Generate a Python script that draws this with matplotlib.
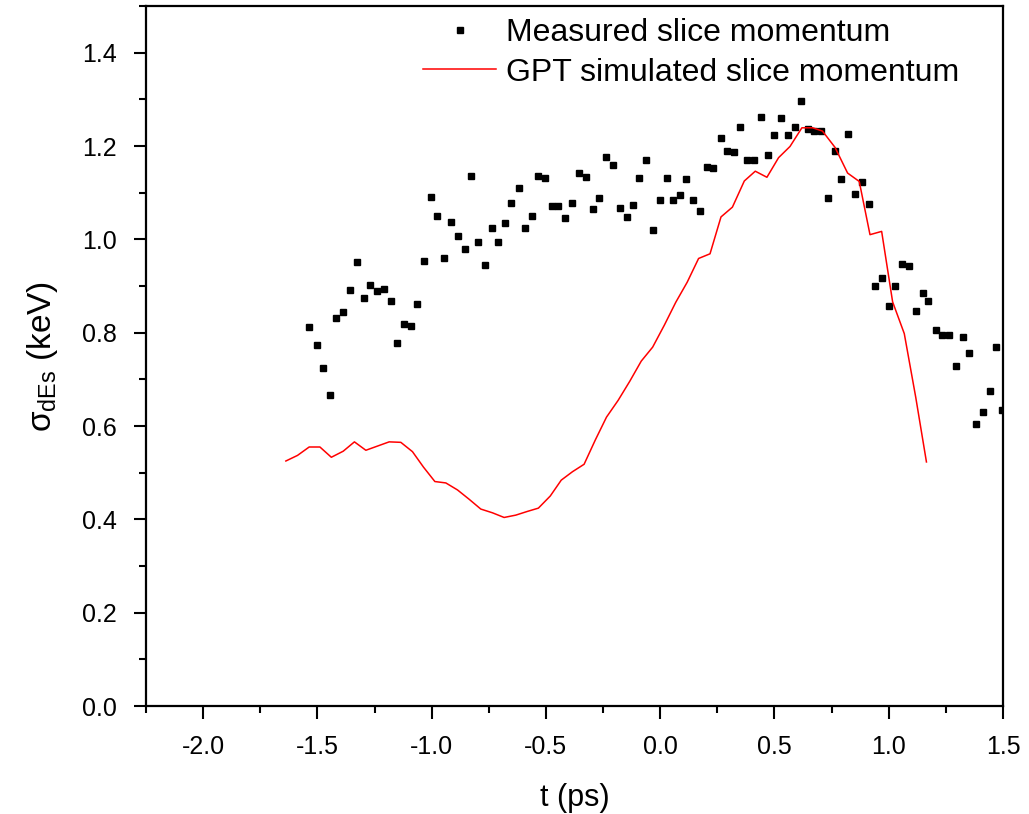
import matplotlib
matplotlib.use('Agg')
import matplotlib.pyplot as plt
from matplotlib.ticker import MultipleLocator

# measured slice momentum spread (ps, keV)
t_meas = [-1.536, -1.502, -1.476, -1.446, -1.417, -1.386, -1.357, -1.327, -1.297, -1.268,
          -1.240, -1.208, -1.180, -1.151, -1.120, -1.091, -1.062, -1.033, -1.002, -0.975,
          -0.945, -0.916, -0.885, -0.856, -0.827, -0.797, -0.767, -0.737, -0.708, -0.678,
          -0.651, -0.618, -0.591, -0.561, -0.533, -0.503, -0.474, -0.448, -0.416, -0.386,
          -0.354, -0.325, -0.296, -0.267, -0.236, -0.207, -0.178, -0.147, -0.121, -0.092,
          -0.061, -0.032, -0.001, 0.028, 0.057, 0.088, 0.114, 0.144, 0.174, 0.203,
          0.233, 0.264, 0.293, 0.323, 0.350, 0.381, 0.410, 0.439, 0.471, 0.499,
          0.528, 0.559, 0.588, 0.616, 0.645, 0.675, 0.705, 0.734, 0.763, 0.793,
          0.823, 0.853, 0.883, 0.913, 0.940, 0.972, 0.999, 1.028, 1.058, 1.090,
          1.119, 1.148, 1.174, 1.207, 1.235, 1.262, 1.294, 1.323, 1.352, 1.382,
          1.412, 1.443, 1.469, 1.495]
s_meas = [0.813, 0.774, 0.725, 0.666, 0.831, 0.844, 0.891, 0.951, 0.874, 0.903,
          0.889, 0.894, 0.867, 0.778, 0.819, 0.814, 0.861, 0.953, 1.091, 1.049,
          0.961, 1.037, 1.008, 0.980, 1.136, 0.994, 0.946, 1.025, 0.994, 1.036,
          1.078, 1.110, 1.024, 1.051, 1.136, 1.132, 1.071, 1.072, 1.046, 1.078,
          1.143, 1.133, 1.065, 1.088, 1.177, 1.160, 1.068, 1.047, 1.074, 1.132,
          1.170, 1.021, 1.084, 1.132, 1.085, 1.095, 1.129, 1.085, 1.061, 1.156,
          1.153, 1.217, 1.189, 1.187, 1.241, 1.171, 1.171, 1.262, 1.180, 1.223,
          1.259, 1.224, 1.241, 1.296, 1.236, 1.233, 1.233, 1.089, 1.190, 1.129,
          1.225, 1.098, 1.122, 1.076, 0.899, 0.917, 0.857, 0.900, 0.947, 0.942,
          0.847, 0.884, 0.868, 0.806, 0.796, 0.796, 0.728, 0.790, 0.757, 0.605,
          0.629, 0.676, 0.769, 0.635]

# GPT simulation
t_gpt = [-1.638, -1.587, -1.536, -1.489, -1.439, -1.387, -1.338, -1.288, -1.237, -1.186,
         -1.135, -1.084, -1.036, -0.986, -0.938, -0.887, -0.836, -0.785, -0.734, -0.683,
         -0.632, -0.581, -0.533, -0.481, -0.433, -0.384, -0.333, -0.284, -0.235, -0.184,
         -0.133, -0.083, -0.033, 0.018, 0.068, 0.118, 0.168, 0.218, 0.266, 0.316,
         0.368, 0.416, 0.467, 0.518, 0.568, 0.620, 0.667, 0.710, 0.765, 0.820,
         0.871, 0.918, 0.969, 1.017, 1.068, 1.118, 1.165]
s_gpt = [0.525, 0.537, 0.555, 0.555, 0.533, 0.546, 0.566, 0.548, 0.557, 0.566,
         0.565, 0.545, 0.512, 0.481, 0.478, 0.463, 0.443, 0.422, 0.414, 0.404,
         0.409, 0.417, 0.424, 0.450, 0.484, 0.502, 0.518, 0.570, 0.619, 0.655,
         0.696, 0.739, 0.769, 0.816, 0.865, 0.908, 0.959, 0.969, 1.048, 1.069,
         1.125, 1.146, 1.133, 1.175, 1.199, 1.239, 1.239, 1.232, 1.197, 1.142,
         1.124, 1.010, 1.017, 0.866, 0.798, 0.662, 0.523]

plt.rcParams['font.family'] = ['Liberation Sans', 'DejaVu Sans']
plt.rcParams['mathtext.fontset'] = 'custom'
plt.rcParams['mathtext.rm'] = 'Liberation Sans'
plt.rcParams['mathtext.it'] = 'Liberation Sans:italic'

fig = plt.figure(figsize=(10.29, 8.14), dpi=100)
ax = fig.add_axes([146/1029, 1 - 706/814, (1003 - 146)/1029, (706 - 6)/814])

ax.plot(t_meas, s_meas, 's', color='black', markersize=4.6, linestyle='none',
        label='Measured slice momentum')
ax.plot(t_gpt, s_gpt, '-', color='red', linewidth=1.1,
        label='GPT simulated slice momentum')

ax.set_xlim(-2.25, 1.5)
ax.set_ylim(0, 1.5)
ax.xaxis.set_major_locator(MultipleLocator(0.5))
ax.xaxis.set_minor_locator(MultipleLocator(0.25))
ax.yaxis.set_major_locator(MultipleLocator(0.2))
ax.yaxis.set_minor_locator(MultipleLocator(0.1))
ax.xaxis.set_major_formatter(plt.FuncFormatter(lambda v, p: '%.1f' % v))
ax.yaxis.set_major_formatter(plt.FuncFormatter(lambda v, p: '%.1f' % v))

ax.tick_params(which='both', direction='out', width=1.5, labelsize=18, top=False, right=False)
ax.tick_params(which='major', length=9, pad=12)
ax.tick_params(which='minor', length=5)
for sp in ax.spines.values():
    sp.set_linewidth(1.6)

ax.set_xlabel('t (ps)', fontsize=22, labelpad=17)
ax.set_ylabel(r'σ$_{\mathrm{dEs}}$ (keV)', fontsize=24, labelpad=16)

fig.legend(loc='upper left', bbox_to_anchor=(423/1029, 1 - 18/814), frameon=False,
           fontsize=23, handlelength=2.3, handletextpad=0.3, labelspacing=0.3,
           borderpad=0, borderaxespad=0, numpoints=1)

fig.savefig('out.png', dpi=100)
